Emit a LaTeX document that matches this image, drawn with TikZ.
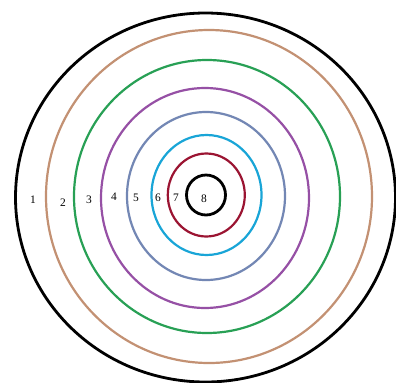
\documentclass[tikz,border=0pt]{standalone}
\usepackage{fontspec}
\setmainfont{Liberation Serif}
\definecolor{ringbrown}{RGB}{195,145,115}
\definecolor{ringgreen}{RGB}{40,160,85}
\definecolor{ringpurple}{RGB}{150,80,165}
\definecolor{ringslate}{RGB}{115,135,180}
\definecolor{ringcyan}{RGB}{25,165,215}
\definecolor{ringred}{RGB}{155,20,50}
\tikzset{
  ring/.style={line width=2.2bp},
  lbl/.style={font=\fontsize{11.5}{12}\selectfont, inner sep=0pt, text=black}
}
\begin{document}
\begin{tikzpicture}[x=1bp,y=-1bp]
\useasboundingbox (0,0) rectangle (396,383);
\fill[white] (0,0) rectangle (396,383);
\draw[ring, black, line width=2.8bp] (205.5,197.5) ellipse [x radius=190, y radius=184.5];
\draw[ring, ringbrown] (209,196.5) ellipse [x radius=163, y radius=166.5];
\draw[ring, ringgreen] (207,196.5) ellipse [x radius=133, y radius=136.5];
\draw[ring, ringpurple] (205,198) ellipse [x radius=104, y radius=110];
\draw[ring, ringslate] (206,196) ellipse [x radius=79, y radius=84];
\draw[ring, ringcyan] (206.5,195) ellipse [x radius=55, y radius=60];
\draw[ring, ringred] (206.3,195) ellipse [x radius=38.5, y radius=41.5];
\draw[ring, black, line width=2.8bp] (206,195) ellipse [x radius=19.5, y radius=20];
\node[lbl] (l1) at (33,200) {1};
\node[lbl] (l2) at (63,203) {2};
\node[lbl] (l3) at (89,200) {3};
\node[lbl] (l4) at (114,197) {4};
\node[lbl] (l5) at (136,197.5) {5};
\node[lbl] (l6) at (158,198) {6};
\node[lbl] (l7) at (176,198) {7};
\node[lbl] (l8) at (204,198.5) {8};
\end{tikzpicture}
\end{document}
